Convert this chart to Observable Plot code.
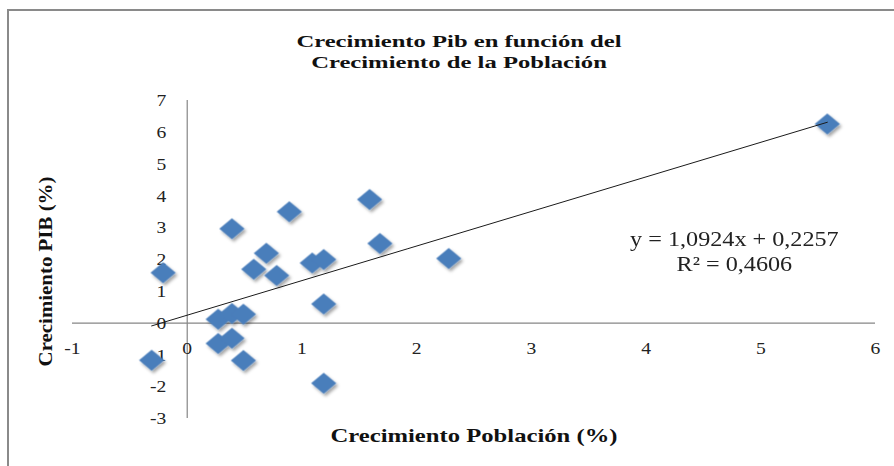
<!DOCTYPE html>
<html><head><meta charset="utf-8">
<script src="https://cdn.jsdelivr.net/npm/d3@7"></script>
<script src="https://cdn.jsdelivr.net/npm/@observablehq/plot@0.6"></script>
<style>
html,body{margin:0;padding:0;background:#fff;}
#wrap{position:relative;width:894px;height:466px;overflow:hidden;}
#border{position:absolute;left:7px;top:9px;right:-10px;bottom:-10px;border-left:2px solid #8a8a8a;border-top:2px solid #8a8a8a;}
#chart{position:absolute;left:0;top:0;}
</style></head><body>
<div id="wrap"><div id="border"></div><div id="chart"></div></div>
<script>
// Data
const crecPoblacion = [-0.21, -0.31, 0.39, 0.89, 1.59, 1.68, 0.69, 0.58, 0.78, 1.09, 1.19, 1.19, 1.19, 0.27, 0.39, 0.49, 0.27, 0.39, 0.49, 2.28, 5.58];
const crecPIB       = [ 1.58, -1.17, 2.97, 3.50, 3.89, 2.50, 2.20, 1.69, 1.50, 1.89, 2.00, 0.60, -1.89, 0.12, 0.30, 0.28, -0.64, -0.48, -1.18, 2.03, 6.26];
const xTicks = [-1, 0, 1, 2, 3, 4, 5, 6];
const yTicks = [-3, -2, -1, 0, 1, 2, 3, 4, 5, 6, 7];
const titleLines = ["Crecimiento Pib en función del", "Crecimiento de la Población"];
const xLabel = "Crecimiento Población (%)";
const yLabel = "Crecimiento PIB (%)";
const eqLines = ["y = 1,0924x + 0,2257", "R² = 0,4606"];

const points = crecPoblacion.map((x, i) => ({x, y: crecPIB[i]}));

const wideDiamond = {
  draw(ctx, size) {
    const r = Math.sqrt(size / Math.PI);
    const w = r * 1.2, h = r;
    ctx.moveTo(0, -h); ctx.lineTo(w, 0); ctx.lineTo(0, h); ctx.lineTo(-w, 0); ctx.closePath();
  }
};

const serif = "'Liberation Serif', 'Times New Roman', serif";
const plot = Plot.plot({
  width: 894, height: 466,
  marginLeft: 72, marginRight: 19, marginTop: 100, marginBottom: 48,
  style: {fontFamily: serif, background: "transparent"},
  x: {domain: [-1, 6], axis: null},
  y: {domain: [-3, 7], axis: null},
  marks: [
    Plot.ruleY([0], {stroke: "#868686", strokeWidth: 1.2}),
    Plot.ruleX([0], {stroke: "#868686", strokeWidth: 1.2}),
    Plot.text(xTicks, {x: d => d, y: () => 0, dy: 25, text: d => String(d), fontSize: 17.5, fill: "#222", lineAnchor: "middle"}),
    Plot.text(yTicks, {x: () => 0, y: d => d, dx: -21, text: d => String(d), fontSize: 17.5, fill: "#222", textAnchor: "end", lineAnchor: "middle"}),
    Plot.dot(points, {x: "x", y: "y", symbol: wideDiamond, r: 10.5, fill: "#4A7EBB", stroke: "none"}),
    Plot.linearRegressionY(points, {x: "x", y: "y", ci: 0, stroke: "#1a1a1a", strokeWidth: 1}),
    Plot.text([titleLines.join("\n")], {frameAnchor: "top", dx: -15, dy: -49.5, lineAnchor: "middle", fontSize: 17, fontWeight: "bold", lineHeight: 1.235, fill: "#111"}),
    Plot.text([xLabel], {frameAnchor: "bottom", dy: 18, lineAnchor: "middle", fontSize: 18, fontWeight: "bold", fill: "#111"}),
    Plot.text([yLabel], {frameAnchor: "left", dx: -26, dy: 12, rotate: -90, textAnchor: "middle", lineAnchor: "middle", fontSize: 18.5, fontWeight: "bold", fill: "#111"}),
    Plot.text([eqLines.join("\n")], {x: () => 4.77, y: () => 2.27, lineAnchor: "middle", fontSize: 20.5, lineHeight: 1.22, fill: "#222"})
  ]
});
document.getElementById("chart").appendChild(plot);

// horizontal stretch of text to imitate the reference's wide type
const stretch = new Map([[titleLines.join(""), 1.45], [xLabel, 1.37], [yLabel, 1.13], [eqLines.join(""), 1.18]]);
plot.querySelectorAll("text").forEach(t => {
  const sx = stretch.get(t.textContent) ?? 1.12;
  const tr = t.getAttribute("transform") || "";
  t.setAttribute("transform", tr + ` scale(${sx},1)`);
});

// soft drop shadow on the diamonds
const ns = "http://www.w3.org/2000/svg";
const defs = document.createElementNS(ns, "defs");
defs.innerHTML = '<filter id="sh" x="-50%" y="-50%" width="200%" height="200%"><feDropShadow dx="2" dy="2.5" stdDeviation="1.6" flood-color="#000" flood-opacity="0.35"/></filter>';
plot.insertBefore(defs, plot.firstChild);
const dg = plot.querySelector('g[aria-label="dot"]');
if (dg) dg.setAttribute("filter", "url(#sh)");
</script>
</body></html>
